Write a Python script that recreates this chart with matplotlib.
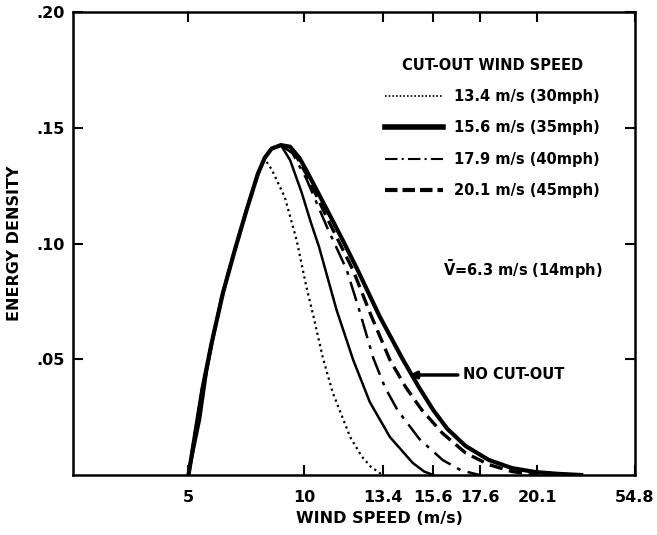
import numpy as np
import matplotlib
matplotlib.use('Agg')
import matplotlib.pyplot as plt
from matplotlib.lines import Line2D

plt.rcParams['font.family'] = ['DejaVu Sans']
plt.rcParams['font.weight'] = 'bold'

# shared rising branch (cut-in at 5 m/s)
rise_x = [5.0, 5.6, 6.0, 6.5, 7.0, 7.5, 8.0]
rise_y = [0.0, 0.037, 0.057, 0.079, 0.097, 0.114, 0.130]

# 13.4 m/s (30 mph) cut-out
x_134 = rise_x + [8.3, 8.6, 9.17, 9.68, 10.11, 10.4, 10.82, 11.25, 12.0, 12.5, 12.9, 13.4]
y_134 = rise_y + [0.1365, 0.132, 0.120, 0.1015, 0.081, 0.069, 0.0505, 0.0354, 0.0164, 0.008, 0.0035, 0.0]

# 15.6 m/s (35 mph) cut-out
x_156 = [5.0, 5.5, 5.8, 6.4, 7.0, 7.5, 8.0, 8.3, 8.6, 9.0, 9.4, 9.9, 10.3, 10.65, 11.41, 12.13, 12.85, 13.72, 14.71, 15.2, 15.6]
y_156 = [0.0, 0.024, 0.045, 0.076, 0.097, 0.114, 0.130, 0.137, 0.141, 0.1425, 0.136, 0.122, 0.109, 0.0986, 0.0713, 0.0497, 0.0315, 0.0164, 0.0052, 0.0015, 0.0]

# peak region shared by the remaining curves
peak_x = rise_x + [8.3, 8.6, 9.0]
peak_y = rise_y + [0.137, 0.141, 0.1425]

# 17.9 m/s (40 mph) cut-out
x_179 = peak_x + [9.5, 10.1, 11.0, 11.85, 12.4, 13.0, 13.5, 14.05, 15.0, 16.0, 16.8, 17.6]
y_179 = peak_y + [0.139, 0.128, 0.107, 0.0886, 0.071, 0.0505, 0.038, 0.028, 0.0155, 0.0065, 0.002, 0.0]

# 20.1 m/s (45 mph) cut-out
x_201 = peak_x + [9.6, 10.1, 11.0, 12.12, 12.9, 13.72, 14.4, 15.1, 16.0, 17.0, 18.0, 19.0, 20.1]
y_201 = peak_y + [0.139, 0.130, 0.111, 0.0886, 0.069, 0.0497, 0.038, 0.0281, 0.018, 0.0095, 0.0045, 0.0015, 0.0]

# no cut-out
x_none = peak_x + [9.4, 9.8, 10.11, 11.0, 11.7, 12.32, 13.28, 14.29, 15.0, 15.6, 16.2, 17.0, 18.0, 19.0, 20.0, 21.0, 22.0]
y_none = peak_y + [0.1418, 0.137, 0.1315, 0.1145, 0.101, 0.0886, 0.0684, 0.0497, 0.0375, 0.028, 0.020, 0.0125, 0.0065, 0.003, 0.0013, 0.0005, 0.0]

x_ticks = [5, 10, 13.4, 15.6, 17.6, 20.1, 24.33]
x_tick_labels = ['5', '10', '13.4', '15.6', '17.6', '20.1', '54.8']
y_ticks = [0.05, 0.10, 0.15, 0.20]
y_tick_labels = ['.05', '.10', '.15', '.20']

legend_labels = ['13.4 m/s (30mph)', '15.6 m/s (35mph)', '17.9 m/s (40mph)', '20.1 m/s (45mph)']

fig = plt.figure(figsize=(6.57, 5.35), dpi=100)
ax = fig.add_axes([73/657, 1 - 475/535, 562/657, 463/535])

ax.plot(x_134, y_134, color='black', lw=1.6, linestyle=(0, (1, 1.6)))
ax.plot(x_156, y_156, color='black', lw=1.8)
ax.plot(x_179, y_179, color='black', lw=1.8, linestyle=(0, (8, 3, 1.5, 3)))
ax.plot(x_201, y_201, color='black', lw=2.4, linestyle=(0, (4, 2)))
ax.plot(x_none, y_none, color='black', lw=3.0)

ax.set_xlim(0, 24.33)
ax.set_ylim(0, 0.2)
ax.set_xticks(x_ticks)
ax.set_xticklabels(x_tick_labels, fontsize=11.5, fontweight='bold')
ax.set_yticks(y_ticks)
ax.set_yticklabels(y_tick_labels, fontsize=11.5, fontweight='bold')
ax.tick_params(direction='in', length=7, width=1.5, top=True, right=True, pad=6)
ax.tick_params(axis='x', pad=11)
for s in ax.spines.values():
    s.set_linewidth(1.8)

ax.set_xlabel('WIND SPEED (m/s)', fontsize=11.5, fontweight='bold')
ax.xaxis.set_label_coords(0.545, -0.078)
ax.set_ylabel('ENERGY DENSITY', fontsize=11.5, fontweight='bold')
ax.yaxis.set_label_coords(-0.09, 0.5)

# legend with its own handle styles
handles = [Line2D([], [], color='black', lw=1.2, linestyle=(0, (1, 1.2))),
           Line2D([], [], color='black', lw=4.0),
           Line2D([], [], color='black', lw=1.5, linestyle=(0, (6, 2, 1, 2))),
           Line2D([], [], color='black', lw=3.0, linestyle=(0, (3, 1.2)))]
leg = ax.legend(handles, legend_labels, loc='upper right', bbox_to_anchor=(0.96, 0.93),
                frameon=False, handlelength=4.0, handletextpad=0.7, labelspacing=1.13,
                prop={'weight': 'bold', 'size': 10.5},
                title='CUT-OUT WIND SPEED', title_fontproperties={'weight': 'bold', 'size': 10.5})

ax.text(16.0, 0.0886, r'$\mathbf{\bar{V}}$=6.3 m/s (14mph)', fontsize=10.5, fontweight='bold',
        va='center', ha='left')

ax.annotate('NO CUT-OUT', xy=(14.55, 0.0432), xytext=(16.9, 0.0432), fontsize=10.5,
            fontweight='bold', va='center', ha='left',
            arrowprops=dict(arrowstyle='-|>', lw=2.5, color='black', mutation_scale=10,
                            shrinkA=2, shrinkB=0))

plt.savefig('out.png', dpi=100)
